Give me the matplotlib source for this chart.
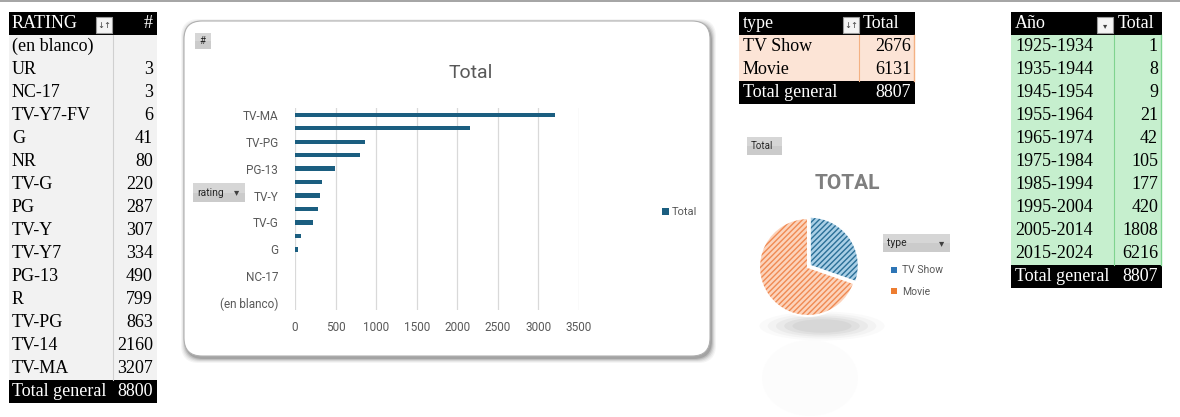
import numpy as np
import matplotlib
matplotlib.use("Agg")
import matplotlib.pyplot as plt
from matplotlib.patches import Rectangle, FancyBboxPatch, Ellipse

# data
ratings = ["(en blanco)", "UR", "NC-17", "TV-Y7-FV", "G", "NR", "TV-G", "PG",
           "TV-Y", "TV-Y7", "PG-13", "R", "TV-PG", "TV-14", "TV-MA"]
rating_counts = [None, 3, 3, 6, 41, 80, 220, 287, 307, 334, 490, 799, 863, 2160, 3207]
rating_total = 8800

types = ["TV Show", "Movie"]
type_counts = [2676, 6131]
type_total = 8807

decades = ["1925-1934", "1935-1944", "1945-1954", "1955-1964", "1965-1974",
           "1975-1984", "1985-1994", "1995-2004", "2005-2014", "2015-2024"]
decade_counts = [1, 8, 9, 21, 42, 105, 177, 420, 1808, 6216]
decade_total = 8807

W, H = 1180, 417
SERIF = "Liberation Serif"
SANS = "Roboto"
BAR_COL = "#1b5e80"
GRAY_TXT = "#595959"

fig = plt.figure(figsize=(W / 100, H / 100), dpi=100)
fig.patch.set_facecolor("white")

# background axes in pixel coords for the "sheet"
bg = fig.add_axes([0, 0, 1, 1])
bg.set_xlim(0, W)
bg.set_ylim(H, 0)
bg.axis("off")


def rect(x0, y0, x1, y1, fc, **kw):
    bg.add_patch(Rectangle((x0, y0), x1 - x0, y1 - y0, facecolor=fc, **kw))


def button(x0, y0, x1, y1, label, arrow=False, size=7.5):
    rect(x0, y0, x1, y1, "#d6d6d6", edgecolor="none")
    rect(x0, y0 + (y1 - y0) * 0.5, x1, y1, "#c4c4c4", edgecolor="none", alpha=0.6)
    bg.text(x0 + 4, (y0 + y1) / 2, label, fontsize=size, family=SANS,
            color="#262626", va="center", ha="left")
    if arrow:
        bg.text(x1 - 8, (y0 + y1) / 2, "\u25BE", fontsize=size, color="#404040",
                va="center", ha="center", family="DejaVu Sans")


def filter_icon(x0, y0, sym="\u25BE"):
    rect(x0, y0, x0 + 16, y0 + 16, "#f4f4f4", edgecolor="#9a9a9a", linewidth=0.8)
    bg.text(x0 + 8, y0 + 8.5, sym, fontsize=6, color="#404040",
            ha="center", va="center", family="DejaVu Sans")


# top gray line
rect(0, 0, W, 2, "#a6a6a6", edgecolor="none")

ROW = 23
FS = 13

# ---- left table: rating counts
lx0, lx1, ldiv = 9, 157, 113
rect(lx0, 12, lx1, 35, "black")
bg.text(lx0 + 3, 23.5, "RATING", color="white", family=SERIF, fontsize=FS, va="center")
filter_icon(96, 17, "\u2193\u2191")
bg.text(lx1 - 4, 23.5, "#", color="white", family=SERIF, fontsize=FS,
        va="center", ha="right")
n = len(ratings)
rect(lx0, 35, lx1, 35 + ROW * n, "#f2f2f2", edgecolor="none")
bg.plot([ldiv, ldiv], [35, 35 + ROW * n], color="#d0d0d0", lw=0.8)
for i, (r, c) in enumerate(zip(ratings, rating_counts)):
    yc = 35 + ROW * i + ROW / 2
    bg.text(lx0 + 3, yc, r, family=SERIF, fontsize=FS, va="center")
    if c is not None:
        bg.text(lx1 - 4, yc, str(c), family=SERIF, fontsize=FS, va="center", ha="right")
ty = 35 + ROW * n
rect(lx0, ty, lx1, ty + ROW, "black")
bg.text(lx0 + 3, ty + ROW / 2, "Total general", color="white", family=SERIF,
        fontsize=FS, va="center")
bg.text(lx1 - 4, ty + ROW / 2, str(rating_total), color="white", family=SERIF,
        fontsize=FS, va="center", ha="right")

# ---- type table
tx0, tx1, tdiv = 739, 915, 859
rect(tx0, 12, tx1, 35, "black")
bg.text(tx0 + 4, 23.5, "type", color="white", family=SERIF, fontsize=FS, va="center")
filter_icon(843, 17, "\u2193\u2191")
bg.text(tdiv + 4, 23.5, "Total", color="white", family=SERIF, fontsize=FS, va="center")
rect(tx0, 35, tx1, 35 + ROW * len(types), "#fce4d6", edgecolor="none")
bg.plot([tdiv, tdiv], [35, 35 + ROW * len(types)], color="#f4b183", lw=0.8)
bg.plot([tx1 - 1, tx1 - 1], [35, 35 + ROW * len(types)], color="#f4b183", lw=1)
for i, (t, c) in enumerate(zip(types, type_counts)):
    yc = 35 + ROW * i + ROW / 2
    bg.text(tx0 + 4, yc, t, family=SERIF, fontsize=FS, va="center")
    bg.text(tx1 - 4, yc, str(c), family=SERIF, fontsize=FS, va="center", ha="right")
ty = 35 + ROW * len(types)
rect(tx0, ty, tx1, ty + ROW, "black")
bg.text(tx0 + 4, ty + ROW / 2, "Total general", color="white", family=SERIF,
        fontsize=FS, va="center")
bg.text(tx1 - 4, ty + ROW / 2, str(type_total), color="white", family=SERIF,
        fontsize=FS, va="center", ha="right")

# ---- year table
ax0, ax1, adiv = 1011, 1162, 1114
rect(ax0, 12, ax1, 35, "black")
bg.text(ax0 + 4, 23.5, "Año", color="white", family=SERIF, fontsize=FS, va="center")
filter_icon(1097, 17)
bg.text(adiv + 4, 23.5, "Total", color="white", family=SERIF, fontsize=FS, va="center")
rect(ax0, 35, ax1, 35 + ROW * len(decades), "#c6efce", edgecolor="none")
bg.plot([adiv, adiv], [35, 35 + ROW * len(decades)], color="#7fd38f", lw=0.8)
bg.plot([ax1 - 1, ax1 - 1], [35, 35 + ROW * len(decades)], color="#7fd38f", lw=1)
for i, (d, c) in enumerate(zip(decades, decade_counts)):
    yc = 35 + ROW * i + ROW / 2
    bg.text(ax0 + 4, yc, d, family=SERIF, fontsize=FS, va="center")
    bg.text(ax1 - 4, yc, str(c), family=SERIF, fontsize=FS, va="center", ha="right")
ty = 35 + ROW * len(decades)
rect(ax0, ty, ax1, ty + ROW, "black")
bg.text(ax0 + 4, ty + ROW / 2, "Total general", color="white", family=SERIF,
        fontsize=FS, va="center")
bg.text(ax1 - 4, ty + ROW / 2, str(decade_total), color="white", family=SERIF,
        fontsize=FS, va="center", ha="right")

# ---- bar chart frame (rounded, shadowed)
for k, a in [(5, 0.06), (4, 0.08), (3, 0.12), (2, 0.18), (1, 0.25)]:
    bg.add_patch(FancyBboxPatch((184 - k + 2, 21 - k + 3), 527 + 2 * k - 2, 336 + 2 * k - 2,
                                boxstyle="round,pad=0,rounding_size=18",
                                facecolor="#555555", edgecolor="none", alpha=a))
bg.add_patch(FancyBboxPatch((184, 21), 526, 335,
                            boxstyle="round,pad=0,rounding_size=18",
                            facecolor="white", edgecolor="#b0b0b0", linewidth=0.8))
button(195, 33, 211, 49, "#", size=7)
button(193, 183, 245, 202, "rating", arrow=True, size=7.5)

ax = fig.add_axes([295 / W, 1 - 310 / H, 284 / W, 202 / H])
ypos = np.arange(len(ratings))
ax.barh(ypos, [c or 0 for c in rating_counts], height=0.32, color=BAR_COL,
        label="Total", zorder=3)
ax.set_xlim(0, 3500)
ax.set_ylim(-0.5, len(ratings) - 0.5)
ax.set_xticks(np.arange(0, 3501, 500))
ax.set_yticks(ypos[::2])
ax.set_yticklabels(ratings[::2])
ax.grid(axis="x", color="#d9d9d9", lw=0.9, zorder=0)
for s in ax.spines.values():
    s.set_visible(False)
ax.tick_params(length=0, labelsize=8.5, labelcolor=GRAY_TXT)
ax.tick_params(axis="y", pad=12)
ax.tick_params(axis="x", pad=8)
for lab in ax.get_xticklabels() + ax.get_yticklabels():
    lab.set_family(SANS)
ax.set_facecolor("none")
fig.text(471 / W, 1 - 73 / H, "Total", ha="center", va="center", fontsize=14,
         color=GRAY_TXT, family=SANS)
ax.legend(loc="center left", bbox_to_anchor=(652 / W, 1 - 212 / H),
          bbox_transform=fig.transFigure, frameon=False, handlelength=0.6,
          handleheight=0.6, handletextpad=0.3, prop={"family": SANS, "size": 8},
          labelcolor=GRAY_TXT)

# ---- pie chart
button(747, 137, 782, 155, "Total", size=7)
fig.text(847 / W, 1 - 184 / H, "TOTAL", ha="center", va="center", fontsize=15,
         fontweight="bold", color="#7f7f7f", family=SANS)
# shadow and reflection
for k, a in [(1.0, 0.04), (0.85, 0.06), (0.7, 0.08), (0.55, 0.1), (0.4, 0.1)]:
    bg.add_patch(Ellipse((822, 326), 110 * k + 15, 26 * k + 3, facecolor="#8a8a8a",
                         edgecolor="none", alpha=a))
bg.add_patch(Ellipse((810, 378), 96, 76, facecolor="#f7f7f7", edgecolor="none", alpha=0.3))

r_px = 49
pax = fig.add_axes([(808 - 55) / W, 1 - (267 + 55) / H, 110 / W, 110 / H])
pax.set_aspect("equal")
face = ["#a9cfe6", "#fcd3bb"]
hatchc = ["#2a6f97", "#f08a52"]
wedges, _ = pax.pie(type_counts, startangle=90, counterclock=False,
                    colors=face, explode=[0.04, 0], radius=r_px / 55,
                    wedgeprops=dict(linewidth=0))
for w, hc in zip(wedges, hatchc):
    w.set_hatch("//////")
    w.set_edgecolor(hc)
    w.set_linewidth(0)
pax.pie(type_counts, startangle=90, counterclock=False, colors=["none", "none"],
        explode=[0.04, 0], radius=r_px / 55,
        wedgeprops=dict(linewidth=1.5, edgecolor="white"))
pax.set_xlim(-1, 1)
pax.set_ylim(-1, 1)

button(883, 234, 950, 252, "type", arrow=True, size=7.5)
leg_handles = [Rectangle((0, 0), 1, 1, facecolor=hc, edgecolor="none") for hc in ["#2e75b6", "#ed7d31"]]
fig.legend(leg_handles, types, loc="upper left",
           bbox_to_anchor=(882 / W, 1 - 256 / H), frameon=False,
           handlelength=0.5, handleheight=0.5, handletextpad=0.5,
           labelspacing=1.1, prop={"family": SANS, "size": 7.5}, labelcolor=GRAY_TXT)

fig.savefig("out.png", dpi=100)
